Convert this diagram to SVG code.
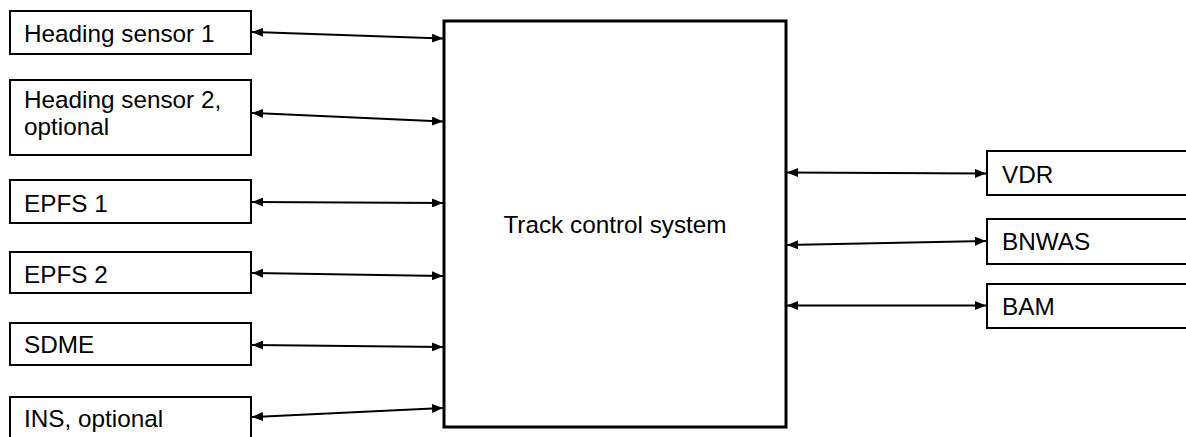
<svg xmlns="http://www.w3.org/2000/svg" width="1186" height="437" viewBox="0 0 1186 437">
<style>
.box{fill:#fff;stroke:#000;stroke-width:2}
.main{fill:#fff;stroke:#000;stroke-width:3}
.t{font-family:"Liberation Sans",Arial,sans-serif;font-size:24.3px;fill:#000}
.c{fill:none;stroke:#000;stroke-width:2}
</style>
<defs>
<marker id="ah" markerUnits="userSpaceOnUse" markerWidth="11" markerHeight="9" refX="11" refY="4.5" orient="auto-start-reverse">
<path d="M0,0 L11,4.5 L0,9 z" fill="#000"/>
</marker>
</defs>
<rect width="1186" height="437" fill="#fff"/>
<g id="connectors">
<line class="c" x1="252" y1="32" x2="443" y2="38.5" marker-start="url(#ah)" marker-end="url(#ah)"/>
<line class="c" x1="252" y1="113" x2="443" y2="121.5" marker-start="url(#ah)" marker-end="url(#ah)"/>
<line class="c" x1="252" y1="202" x2="443" y2="203" marker-start="url(#ah)" marker-end="url(#ah)"/>
<line class="c" x1="252" y1="273" x2="443" y2="276" marker-start="url(#ah)" marker-end="url(#ah)"/>
<line class="c" x1="252" y1="345" x2="443" y2="347" marker-start="url(#ah)" marker-end="url(#ah)"/>
<line class="c" x1="252" y1="417" x2="443" y2="408" marker-start="url(#ah)" marker-end="url(#ah)"/>
<line class="c" x1="787" y1="172.5" x2="986" y2="173.5" marker-start="url(#ah)" marker-end="url(#ah)"/>
<line class="c" x1="787" y1="245" x2="986" y2="241" marker-start="url(#ah)" marker-end="url(#ah)"/>
<line class="c" x1="787" y1="305.5" x2="986" y2="305.5" marker-start="url(#ah)" marker-end="url(#ah)"/>
</g>
<g id="heading1"><rect class="box" x="10" y="11" width="241" height="43"/><text class="t" x="24" y="42">Heading sensor 1</text></g>
<g id="heading2"><rect class="box" x="10" y="80" width="241" height="75"/><text class="t" x="24" y="108">Heading sensor 2,</text><text class="t" x="24" y="135">optional</text></g>
<g id="epfs1"><rect class="box" x="10" y="180" width="241" height="43"/><text class="t" x="24" y="212">EPFS 1</text></g>
<g id="epfs2"><rect class="box" x="10" y="252" width="241" height="41"/><text class="t" x="24" y="283">EPFS 2</text></g>
<g id="sdme"><rect class="box" x="10" y="323" width="241" height="42"/><text class="t" x="24" y="353">SDME</text></g>
<g id="ins"><rect class="box" x="10" y="397" width="241" height="50"/><text class="t" x="24" y="427">INS, optional</text></g>
<g id="tcs"><rect class="main" x="444" y="21" width="342" height="406"/><text class="t" x="615" y="233" text-anchor="middle">Track control system</text></g>
<g id="vdr"><rect class="box" x="987" y="151" width="220" height="44"/><text class="t" x="1002" y="183">VDR</text></g>
<g id="bnwas"><rect class="box" x="987" y="219" width="220" height="45"/><text class="t" x="1002" y="250">BNWAS</text></g>
<g id="bam"><rect class="box" x="987" y="284" width="220" height="44"/><text class="t" x="1002" y="315">BAM</text></g>
</svg>
